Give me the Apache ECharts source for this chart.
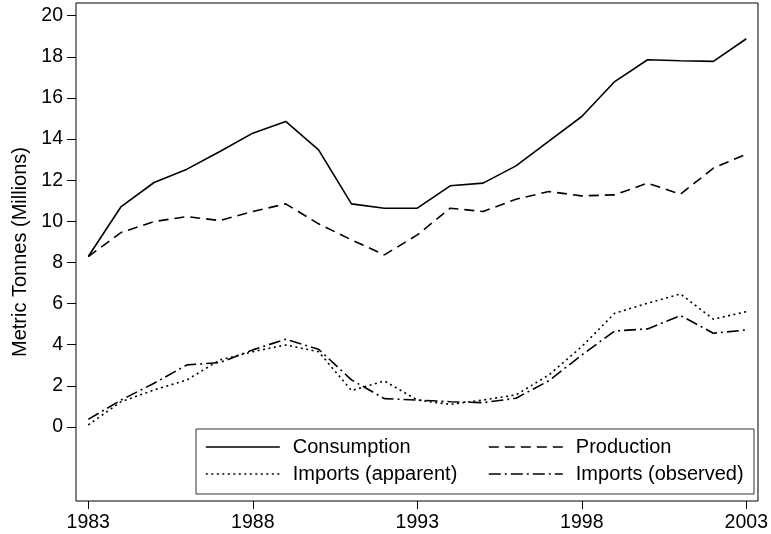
<!DOCTYPE html>
<html>
<head>
<meta charset="utf-8">
<script src="https://cdn.jsdelivr.net/npm/echarts@6/dist/echarts.min.js"></script>
<style>html,body{margin:0;padding:0;background:#fff;}#c{width:771px;height:534px;}</style>
</head>
<body>
<div id="c"></div>
<script>
const years = [1983,1984,1985,1986,1987,1988,1989,1990,1991,1992,1993,1994,1995,1996,1997,1998,1999,2000,2001,2002,2003];
const consumption = [8.29,10.72,11.89,12.54,13.40,14.29,14.86,13.48,10.85,10.64,10.64,11.73,11.86,12.70,13.90,15.10,16.80,17.86,17.81,17.78,18.88];
const production = [8.29,9.46,9.99,10.23,10.04,10.48,10.85,9.88,9.10,8.37,9.34,10.64,10.48,11.08,11.45,11.24,11.29,11.86,11.32,12.59,13.27];
const importsApparent = [0.10,1.23,1.80,2.29,3.26,3.66,3.99,3.66,1.77,2.24,1.31,1.10,1.31,1.56,2.53,3.91,5.53,6.02,6.47,5.24,5.61];
const importsObserved = [0.37,1.31,2.13,3.02,3.13,3.75,4.27,3.78,2.29,1.38,1.31,1.23,1.18,1.40,2.25,3.50,4.67,4.77,5.42,4.56,4.72];
const xTicks = [1983,1988,1993,1998,2003];
const yTicks = [0,2,4,6,8,10,12,14,16,18,20];
const seriesNames = ['Consumption','Production','Imports (apparent)','Imports (observed)'];

const FONT = "'Liberation Sans', Arial, sans-serif";
const pairs = arr => years.map((y,i)=>[y,arr[i]]);
const dashes = ['solid',[10,6],[2,3.5],[12,4,2,4]];
const allData = [consumption, production, importsApparent, importsObserved];

const chart = echarts.init(document.getElementById('c'));
const legendPos = [[205,436],[488,436],[205,463],[488,463]];
chart.setOption({
  animation:false,
  backgroundColor:'#fff',
  grid:{left:76,right:11,top:3,bottom:33,show:true,borderColor:'#000',borderWidth:1},
  xAxis:{type:'value',min:1982.627,max:2003.355,
    axisLine:{show:false,onZero:false},
    splitLine:{show:false},
    axisTick:{show:true,length:8,lineStyle:{color:'#000'},customValues:xTicks},
    axisLabel:{color:'#000',fontFamily:FONT,fontSize:19.5,margin:12,customValues:xTicks,formatter:v=>String(v)}
  },
  yAxis:{type:'value',min:-3.6,max:20.62,
    name:'Metric Tonnes (Millions)',nameLocation:'middle',nameGap:44,
    nameTextStyle:{color:'#000',fontFamily:FONT,fontSize:20},
    axisLine:{show:false,onZero:false},
    splitLine:{show:false},
    axisTick:{show:true,length:9,lineStyle:{color:'#000'},customValues:yTicks},
    axisLabel:{color:'#000',fontFamily:FONT,fontSize:19.5,margin:13,customValues:yTicks,formatter:v=>String(v)}
  },
  graphic:[{type:'rect',shape:{x:196,y:429,width:558,height:65},style:{fill:'#fff',stroke:'#333',lineWidth:1},z:5}],
  legend: seriesNames.map((n,i)=>({
    data:[n],left:legendPos[i][0],top:legendPos[i][1],padding:0,
    itemWidth:74,itemHeight:14,z:10,
    itemStyle:{opacity:0,borderWidth:0},
    lineStyle:{opacity:1,width:1.6,color:'#000',type:dashes[i]},
    textStyle:{color:'#000',fontFamily:FONT,fontSize:20,lineHeight:22,padding:[0,0,0,8]},
    selectedMode:false
  })),
  series: seriesNames.map((n,i)=>({
    name:n,type:'line',data:pairs(allData[i]),showSymbol:false,symbol:'none',
    lineStyle:{color:'#000',width:1.6,type:dashes[i]},
    itemStyle:{color:'#000'}
  }))
});
</script>
</body>
</html>
